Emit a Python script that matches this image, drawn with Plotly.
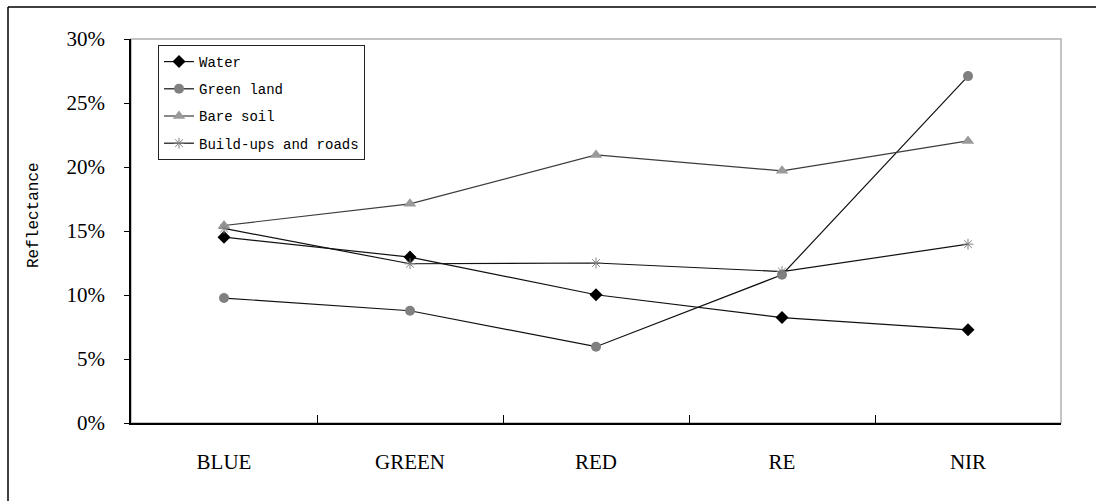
import plotly.graph_objects as go

categories = ["BLUE", "GREEN", "RED", "RE", "NIR"]
water = [0.1452, 0.1296, 0.1002, 0.0824, 0.0728]
green_land = [0.0976, 0.0877, 0.0596, 0.1158, 0.2710]
bare_soil = [0.1543, 0.1712, 0.2094, 0.1970, 0.2204]
buildups = [0.1520, 0.1244, 0.1250, 0.1183, 0.1397]

series = [
    ("Water", water, dict(symbol="diamond", size=10, color="black"), "#111111"),
    ("Green land", green_land, dict(symbol="circle", size=10, color="#808080"), "#111111"),
    ("Bare soil", bare_soil, dict(symbol="triangle-up", size=11, color="#9a9a9a"), "#3c3c3c"),
    ("Build-ups and roads", buildups,
     dict(symbol="asterisk-open", size=9, color="#808080", line=dict(width=1, color="#808080")), "#111111"),
]

fig = go.Figure()
for i, (name, vals, marker, lc) in enumerate(series):
    fig.add_trace(go.Scatter(
        x=categories, y=vals, name=name, mode="lines+markers",
        line=dict(color=lc, width=1.2), marker=marker,
        legendgroup=f"g{i}",
    ))

L, R, T, B = 131, 35, 39, 78
W, H = 1096, 501
pw, ph = W - L - R, H - T - B

def px(xp):
    return (xp - L) / pw

def py(yp):
    return (H - B - yp) / ph

shapes = [
    # plot area border (gray)
    dict(type="rect", xref="paper", yref="paper", x0=0, x1=1, y0=0, y1=1,
         line=dict(color="#b0b0b0", width=1.5), layer="below"),
    # outer chart frame (top and left visible)
    dict(type="line", xref="paper", yref="paper", x0=px(8), x1=px(1100), y0=py(7), y1=py(7),
         line=dict(color="black", width=1.5)),
    dict(type="line", xref="paper", yref="paper", x0=px(8), x1=px(8), y0=py(7), y1=py(510),
         line=dict(color="black", width=1.5)),
]

fig.update_layout(
    width=W, height=H,
    margin=dict(l=L, r=R, t=T, b=B, autoexpand=False),
    paper_bgcolor="white", plot_bgcolor="white",
    showlegend=True,
    legend=dict(
        x=px(158), y=py(45), xanchor="left", yanchor="top",
        bgcolor="white", bordercolor="#222222", borderwidth=1,
        font=dict(family="Liberation Mono", size=14, color="black"),
        tracegroupgap=6, traceorder="grouped",
    ),
    shapes=shapes,
    annotations=[dict(
        text="Reflectance", xref="paper", yref="paper", x=px(34), y=py(215),
        xanchor="center", yanchor="middle", textangle=-90, showarrow=False,
        font=dict(family="Liberation Mono", size=16, color="black"),
    )],
    xaxis=dict(
        type="category", range=[-0.5, 4.5], tickson="boundaries",
        ticks="inside", ticklen=8, tickcolor="black", tickwidth=1,
        showline=True, linecolor="black", linewidth=1.5,
        showgrid=False, zeroline=False,
        tickfont=dict(family="Liberation Serif", size=21, color="black"),
        ticklabelstandoff=19,
    ),
    yaxis=dict(
        range=[0, 0.30], dtick=0.05, tickformat=".0%",
        ticks="outside", ticklen=5, tickcolor="black", tickwidth=1,
        showline=True, linecolor="black", linewidth=1.5,
        showgrid=False, zeroline=False,
        tickfont=dict(family="Liberation Serif", size=21, color="black"),
        ticklabelstandoff=15,
    ),
)

fig.write_html("out.html", config={"displayModeBar": False},
               post_script="document.body.style.margin='0';")
